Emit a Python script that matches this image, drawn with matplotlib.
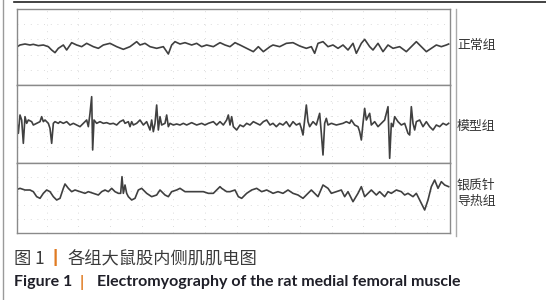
import numpy as np
import matplotlib
matplotlib.use("Agg")
import matplotlib.pyplot as plt

# EMG traces: sample index and amplitude (arbitrary units)
t_normal = [52, 60, 75, 90, 100, 115, 130, 145, 155, 165, 175, 190, 200, 215, 230, 245, 260, 280,
            295, 310, 330, 350, 370, 390, 410, 420, 435, 450, 470, 490, 505, 515, 525, 540, 555,
            575, 590, 605, 620, 640, 660, 675, 690, 705, 720, 740, 760, 775, 790, 810,
            819, 839, 859, 879, 899, 919, 934, 944, 954, 969, 984, 999, 1014, 1029, 1044, 1059,
            1069, 1084, 1094, 1109, 1119, 1134, 1149, 1164, 1179, 1199, 1219, 1234, 1249, 1264,
            1279, 1294, 1309, 1324, 1339, 1346]
v_normal = [-5, 0, 3, 0, 2, -2, 0, -5, -15, -23, -10, 0, -15, 7, 0, -5, 5, -5,
            -10, 0, 5, -5, -13, -5, 10, 0, 5, -5, -10, -5, -27, 0, 10, 3, 7,
            0, 5, -5, 0, -5, 7, 0, -5, 7, 0, -10, -20, -5, -20, -5,
            0, -5, 5, 7, -3, -10, -5, -25, 5, 10, -5, 0, -10, 0, -15, 5,
            -25, 5, 17, -5, -15, 5, -20, 0, -10, -5, -20, -5, 10, -5,
            -20, -10, 0, -5, 0, 3]

t_model = [52, 55, 60, 65, 70, 75, 80, 85, 95, 100, 110, 120, 125, 130, 135, 145, 150, 155, 160,
           165, 175, 180, 190, 200, 210, 220, 230, 240, 250, 260, 265, 270, 275, 278, 282, 290,
           300, 310, 320, 330, 340, 350, 360, 370, 375, 385, 390, 395, 400, 410, 420, 430, 440,
           450, 455, 460, 465, 470, 475, 480, 485, 495, 500, 505, 510, 520, 530, 540, 550, 560,
           575, 590, 605, 615, 625, 640, 650, 660, 670, 680, 685, 690, 695, 700, 710, 720, 730,
           740, 750, 760, 770, 780, 790, 800, 810, 819,
           829, 839, 849, 859, 869, 879, 889, 899, 904, 909, 914, 919, 924, 929, 939, 949, 959,
           964, 969, 974, 979, 984, 994, 1009, 1029, 1039, 1049, 1054, 1064, 1074, 1079, 1084,
           1089, 1094, 1099, 1109, 1114, 1124, 1134, 1144, 1154, 1164, 1169, 1174, 1179, 1184,
           1194, 1204, 1214, 1224, 1229, 1234, 1239, 1244, 1249, 1259, 1269, 1279, 1289, 1299,
           1309, 1319, 1329, 1339, 1346]
v_model = [0, -25, 30, 15, -55, 25, 5, 15, 10, 0, 5, 10, 25, 10, 15, 5, -10, -55, 5,
           10, 5, 10, 5, 10, 0, 5, 0, -5, 5, 15, -5, 35, 85, -75, 15, 5,
           10, 5, 7, 3, 5, 0, 10, 15, 5, 10, -5, 10, 0, 5, 15, 0, 10,
           -15, 15, -20, 5, 60, -15, 25, 0, 5, 30, -5, 5, 0, 3, 0, 5, 0,
           7, 0, 5, 0, 5, 10, 0, 10, 0, 15, 30, 0, 25, -5, -15, 0, -5,
           5, 0, 10, 5, 0, 10, 15, 0, 5,
           -5, 5, 0, 10, -5, 10, 0, 5, -10, -30, 15, 60, 10, -5, 10, 0, 35,
           -25, -90, 5, 20, 0, 5, 0, 5, 10, 5, 15, 0, -5, -20, -45,
           5, 50, 15, 35, 0, 10, -5, 5, 15, 55, -100, 5, -5, 25,
           10, 0, 5, -25, -30, 55, 5, -15, 10, 15, -5, 10, -5, -15,
           0, -5, 5, 0, 5]

t_silver = [52, 60, 75, 90, 100, 110, 120, 130, 140, 150, 160, 170, 180, 190, 195, 205, 215, 225,
            240, 255, 265, 280, 295, 305, 315, 325, 335, 345, 355, 362, 366, 370, 375, 380, 385,
            395, 405, 415, 425, 440, 455, 470, 480, 495, 505, 515, 530, 540, 555, 580, 610, 625,
            640, 650, 660, 665, 680, 690, 705, 715, 725, 740, 755, 770, 785, 800, 810,
            819, 834, 849, 864, 879, 894, 909, 919, 934, 944, 954, 969, 984, 994, 1009, 1024,
            1034, 1044, 1059, 1074, 1084, 1094, 1104, 1114, 1129, 1139, 1154, 1164, 1174, 1189,
            1204, 1214, 1224, 1239, 1249, 1259, 1274, 1284, 1294, 1304, 1314, 1324, 1334, 1346]
v_silver = [7, 10, 5, 5, 0, -15, -20, -5, 5, 0, -15, -25, -20, 10, 23, 10, 0, 5,
            0, -5, 0, -5, -10, 0, 5, 0, 10, 0, -5, -5, 45, -5, 20, -5, -15,
            -25, -20, 5, 10, -5, -15, -10, 5, -10, -15, 0, 5, 10, 0, 0, 0, -5,
            -5, 5, 15, 10, 0, 0, 5, -15, -20, -5, 5, 10, 0, 5, 0,
            -5, 0, -5, 5, -5, -10, -20, -10, 5, -5, -15, 20, 10, -5, 0, 5,
            -15, 0, -30, -5, 15, -15, -5, 5, -10, 0, -15, 0, -5, 5,
            0, -10, -5, -15, -5, -25, -55, -25, 15, 35, 10, 30, 20, 15]

labels = ["正常组", "模型组", "银质针\n导热组"]
caption_cn = ["图 1", "丨", "各组大鼠股内侧肌肌电图"]
caption_en = ["Figure 1", "|", "Electromyography of the rat medial femoral muscle"]

plt.rcParams["font.family"] = ["Noto Sans CJK SC", "DejaVu Sans"]

fig = plt.figure(figsize=(5.46, 3.00), dpi=100)
W, H = 546.0, 300.0

# panel extents in pixels: (top, bottom), and y-limits around the trace baseline
panels = [
    (9, 85, (-120, 108), t_normal, v_normal),
    (85, 163, (-114, 120), t_model, v_model),
    (163, 233, (-124, 86), t_silver, v_silver),
]
x0, x1 = 17, 450
for top, bot, ylim, t, v in panels:
    ax = fig.add_axes([x0 / W, 1 - bot / H, (x1 - x0) / W, (bot - top) / H])
    ax.plot(t, v, color="#404040", lw=1.2, solid_joinstyle="round")
    ax.set_xlim(51, 1350)
    ax.set_ylim(*ylim)
    ax.set_xticks(np.arange(140, 1350, 95))
    ax.set_yticks(np.linspace(ylim[0], ylim[1], 6)[1:-1])
    ax.grid(True, color="#cfcfcf", lw=0.6, ls=(0, (1, 7)))
    ax.tick_params(length=0, labelbottom=False, labelleft=False)
    for s in ax.spines.values():
        s.set_color("#8a8a8a")
        s.set_linewidth(1.0)

# page decorations
fig.add_artist(plt.Line2D([3 / W, 3 / W], [0, 1], color="#9a9a9a", lw=1.0))
fig.add_artist(plt.Line2D([14 / W, 1], [1 - 2 / H, 1 - 2 / H], color="#222222", lw=1.2))
fig.add_artist(plt.Line2D([456 / W, 456 / W], [1 - 9 / H, 1 - 236 / H], color="#aaaaaa", lw=1.0))

# group labels
for y, lab in zip([45, 126, 193], labels):
    fig.text(457 / W, 1 - y / H, lab, fontsize=9.3, color="#333333", va="center",
             ha="left", linespacing=1.3)

# captions, each piece placed at its own x position (pixels)
for p, xp, c in zip(caption_cn, [14, 47, 67], ["#3a3a3a", "#e07b22", "#3a3a3a"]):
    fig.text(xp / W, 1 - 259 / H, p, color=c, va="center", ha="left", fontsize=12.4,
             fontweight="bold" if p == "丨" else "normal")
for p, xp, c in zip(caption_en, [14, 80, 97], ["#1f1f28", "#e07b22", "#1f1f28"]):
    fig.text(xp / W, 1 - 282 / H, p, color=c, va="center", ha="left", fontsize=11.5,
             fontweight="bold", family=["Lato", "DejaVu Sans"])

fig.savefig("out.png", dpi=100)
